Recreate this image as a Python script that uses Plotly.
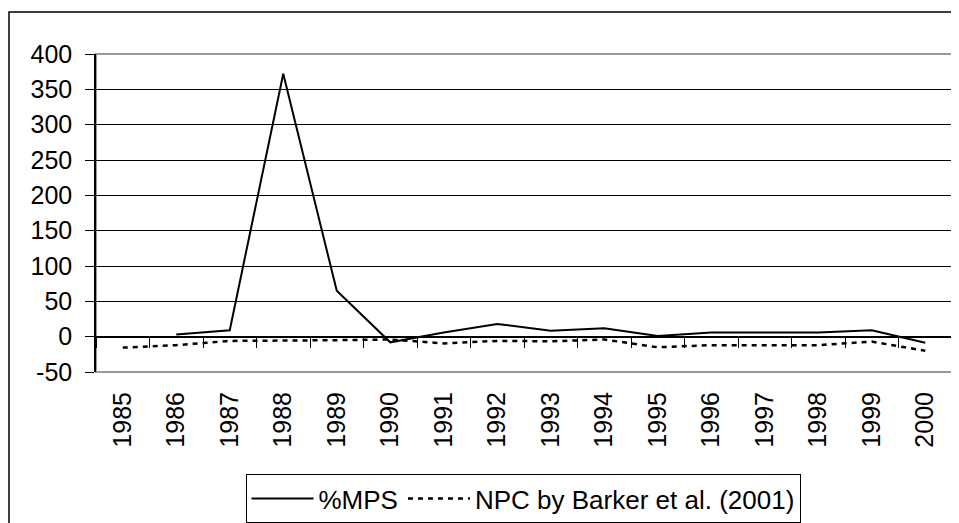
import plotly.graph_objects as go

years = [str(y) for y in range(1985, 2001)]
mps = [None, 3, 9, 372, 65, -8, 6, 18, 8.5, 12, 1, 6, 6, 6, 9, -8.5]
npc = [-15.5, -12, -6, -6, -5, -4, -9.5, -6, -6.5, -4, -15, -12, -12, -12, -7, -20]
y_ticks = [-50, 0, 50, 100, 150, 200, 250, 300, 350, 400]
y_tick_labels = ["-50", "0", "50", "100", "150", "200", "250", "300", "350", "400"]

y_min, y_max = -50, 400
xs = list(range(len(years)))
FONT = "Liberation Sans, Arial, sans-serif"
FS = 25

# page body has an 8px default margin, so the figure is sized to fit the window
W, H = 951, 515
L, T, R, B = 88, 46, 7, 151
PW, PH = W - L - R, H - T - B

fig = go.Figure()
fig.add_trace(go.Scatter(x=xs, y=mps, mode="lines", name="%MPS",
                         line=dict(color="black", width=2)))
fig.add_trace(go.Scatter(x=xs, y=npc, mode="lines", name="NPC by Barker et al. (2001)",
                         line=dict(color="black", width=2.5, dash="5px,5px")))
# dummy trace so the category-boundary axis at y=0 is drawn
fig.add_trace(go.Scatter(x=xs, y=[0] * len(xs), xaxis="x2", mode="lines",
                         line=dict(color="rgba(0,0,0,0)"),
                         showlegend=False, hoverinfo="skip"))

zero_pos = (0 - y_min) / (y_max - y_min)

fig.update_layout(
    width=W, height=H,
    margin=dict(l=L, r=R, t=T, b=B),
    paper_bgcolor="white", plot_bgcolor="white",
    font=dict(family=FONT, size=FS, color="black"),
    showlegend=True,
    legend=dict(orientation="h", xref="container", yref="container",
                x=515 / W, xanchor="center", y=(H - 466) / H, yanchor="top",
                bordercolor="black", borderwidth=1, bgcolor="white",
                font=dict(family=FONT, size=26), itemwidth=62),
    xaxis=dict(range=[-0.5, len(years) - 0.5], tickmode="array", tickvals=xs,
               ticktext=years, tickangle=-90, ticks="", showgrid=False,
               zeroline=False, showline=False, ticklabelstandoff=14,
               automargin=False, tickfont=dict(family=FONT, size=FS)),
    xaxis2=dict(overlaying="x", anchor="free", position=zero_pos, side="bottom",
                range=[-0.5, len(years) - 0.5], tickmode="array",
                tickvals=[i - 0.5 for i in range(len(years) + 1)],
                ticks="outside", ticklen=10, tickcolor="black", tickwidth=1.2,
                showticklabels=False, showgrid=False, zeroline=False,
                showline=True, linecolor="black", linewidth=1, automargin=False),
    yaxis=dict(range=[y_min, y_max], tickmode="array", tickvals=y_ticks,
               ticktext=y_tick_labels,
               ticks="outside", ticklen=9, tickcolor="black",
               showgrid=True, gridcolor="black", gridwidth=1,
               zeroline=False, showline=True, linecolor="black", linewidth=1.5,
               ticklabelstandoff=8, automargin=False,
               tickfont=dict(family=FONT, size=FS)),
)

# plot-area border (gray) and outer chart border
fig.add_shape(type="rect", xref="paper", yref="paper", x0=0, x1=1, y0=0, y1=1,
              line=dict(color="#999999", width=2), layer="between")
fig.add_shape(type="rect", xref="paper", yref="paper",
              x0=(1 - L) / PW, x1=(W + 5 - L) / PW,
              y0=-(H + 5 - (T + PH)) / PH, y1=(T + PH - 4) / PH,
              line=dict(color="black", width=1.5), layer="below")

fig.write_html("out.html")
